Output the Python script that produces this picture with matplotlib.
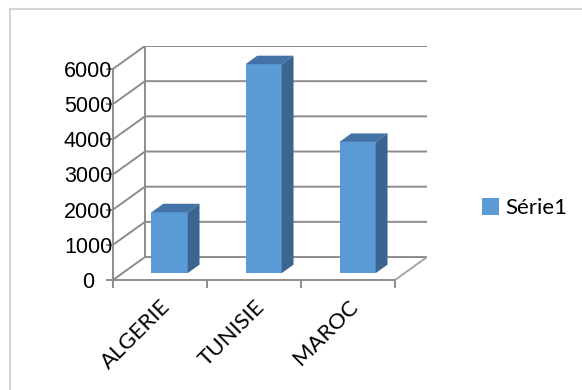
import matplotlib
matplotlib.use('Agg')
import matplotlib.pyplot as plt
from matplotlib.patches import Polygon
from matplotlib.lines import Line2D

# ---------------------------------------------------------------------------
# Data
# ---------------------------------------------------------------------------
categories = ['ALGERIE', 'TUNISIE', 'MAROC']
values = [1730, 5940, 3730]
y_ticks = [0, 1000, 2000, 3000, 4000, 5000, 6000]
series_name = 'Série1'

# oblique "3D" look: depth offset in (category units, value units)
DX, DY = 0.34, 653
D0, D1 = 0.30, 0.67      # bar depth range (fraction of the floor depth)
W = 0.385
FRONT, TOP, SIDE = '#5B9BD5', '#4272A6', '#3A6590'
GRID = '#8c8c8c'

fig = plt.figure(figsize=(5.82, 3.9), dpi=100)
ax = fig.add_axes([113 / 582, 1 - 280 / 390, (427 - 113) / 582, (280 - 46) / 390])
n = len(categories)
ymax = y_ticks[-1]
ax.set_xlim(-0.5, n - 0.5 + DX)
ax.set_ylim(0, ymax + DY)

# side wall + back wall gridlines
for t in y_ticks:
    ax.plot([-0.5, -0.5 + DX, n - 0.5 + DX], [t, t + DY, t + DY],
            color=GRID, lw=1.4, zorder=1, solid_capstyle='butt')
ax.plot([-0.5 + DX] * 2, [DY, ymax + DY], color=GRID, lw=1.4, zorder=1)
# floor right edge
ax.plot([n - 0.5, n - 0.5 + DX], [0, DY], color='#a6a6a6', lw=1.4, zorder=1)

# bars: front face via ax.bar, top and side faces as polygons
xs = list(range(n))
bars = ax.bar([x + D0 * DX for x in xs], values, W, bottom=D0 * DY,
              color=FRONT, zorder=3, label=series_name)
ddx, ddy = (D1 - D0) * DX, (D1 - D0) * DY
for x, v in zip(xs, values):
    x0 = x + D0 * DX - W / 2
    x1 = x0 + W
    y0 = D0 * DY
    y1 = y0 + v
    ax.add_patch(Polygon([(x0, y1), (x1, y1), (x1 + ddx, y1 + ddy), (x0 + ddx, y1 + ddy)],
                         closed=True, facecolor=TOP, edgecolor='none', zorder=3))
    ax.add_patch(Polygon([(x1, y0), (x1 + ddx, y0 + ddy), (x1 + ddx, y1 + ddy), (x1, y1)],
                         closed=True, facecolor=SIDE, edgecolor='none', zorder=3))

# axes
for s in ['top', 'right']:
    ax.spines[s].set_visible(False)
for s in ['left', 'bottom']:
    ax.spines[s].set_color(GRID)
    ax.spines[s].set_linewidth(1.4)
ax.spines['left'].set_bounds(0, ymax)
ax.spines['bottom'].set_bounds(-0.5, n - 0.5)

# y labels are centred in Excel's 3D charts
ax.set_yticks(y_ticks)
ax.set_yticklabels([str(t) for t in y_ticks], fontsize=15.5, family='Liberation Sans',
                   ha='center')
ax.tick_params(axis='y', length=5, width=1.4, color=GRID, pad=13)

ax.set_xticks([i - 0.5 for i in range(n + 1)])
ax.set_xticklabels([''] * (n + 1))
ax.tick_params(axis='x', which='major', length=6, width=1.4, color=GRID)
ax.set_xticks(xs, minor=True)
ax.set_xticklabels(categories, minor=True, rotation=45, ha='right',
                   rotation_mode='anchor', fontsize=16, family='Lato')
ax.tick_params(axis='x', which='minor', length=0, pad=12)

# legend
fig.legend(handles=[bars], labels=[series_name], loc='center left',
           bbox_to_anchor=(462 / 582, 1 - 208 / 390), frameon=False,
           handlelength=0.78, handleheight=0.78, handletextpad=0.25,
           prop={'family': 'Lato', 'size': 16})

# chart-area border (only left/top visible in the crop)
fig.add_artist(Line2D([10 / 582, 10 / 582], [0, 1 - 9 / 390], color='#d4d4d4', lw=1.5))
fig.add_artist(Line2D([10 / 582, 1], [1 - 9 / 390, 1 - 9 / 390], color='#d4d4d4', lw=1.5))

fig.savefig('out.png', dpi=100)
